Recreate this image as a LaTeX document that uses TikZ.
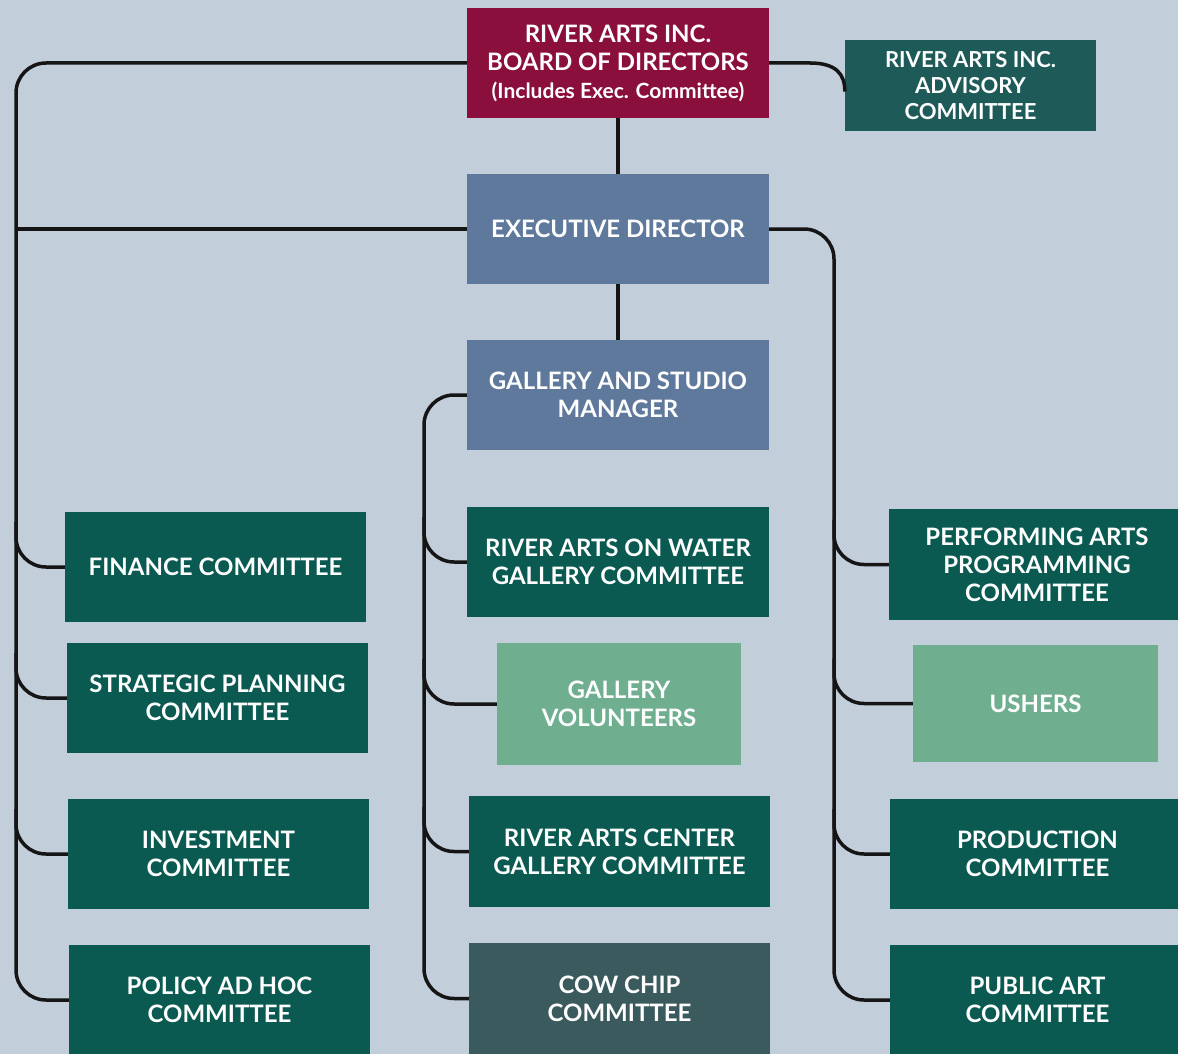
\documentclass[tikz,border=0pt]{standalone}
\usepackage{fontspec}
\setmainfont{Lato}
\usetikzlibrary{calc}
\definecolor{bgc}{HTML}{C3CEDB}
\definecolor{crim}{HTML}{8A0F3C}
\definecolor{dgreen}{HTML}{0A5A52}
\definecolor{advc}{HTML}{1D5A58}
\definecolor{bluec}{HTML}{5F799D}
\definecolor{lgreen}{HTML}{6FAE8E}
\definecolor{cowc}{HTML}{3B5A5D}
\definecolor{linec}{HTML}{151515}
\tikzset{
  orgbox/.style={rectangle, inner sep=0pt, text=white, align=center,
    font=\bfseries\fontsize{24}{28}\selectfont},
  conn/.style={draw=linec, line width=3.5pt, rounded corners=30pt},
}
\begin{document}
\begin{tikzpicture}[x=1pt,y=-1pt]
\useasboundingbox (0,0) rectangle (1178,1054);
\clip (0,0) rectangle (1178,1054);
\fill[bgc] (0,0) rectangle (1178,1054);
% top column
\node[orgbox, fill=crim, minimum width=302, minimum height=110] (board) at (618,63)
  {RIVER ARTS INC.\\BOARD OF DIRECTORS\\{\fontsize{21}{28}\selectfont (Includes Exec. Committee)}};
\node[orgbox, fill=advc, minimum width=251, minimum height=91, font=\bfseries\fontsize{22}{26}\selectfont] (adv) at (970.5,85.5)
  {RIVER ARTS INC.\\ADVISORY\\COMMITTEE};
\node[orgbox, fill=bluec, minimum width=302, minimum height=110] (exec) at (618,229)
  {EXECUTIVE DIRECTOR};
\node[orgbox, fill=bluec, minimum width=302, minimum height=110] (mgr) at (618,395)
  {GALLERY AND STUDIO\\MANAGER};
% left column
\node[orgbox, fill=dgreen, minimum width=301, minimum height=110] (fin) at (215.5,567)
  {FINANCE COMMITTEE};
\node[orgbox, fill=dgreen, minimum width=301, minimum height=110] (strat) at (217.5,698)
  {STRATEGIC PLANNING\\COMMITTEE};
\node[orgbox, fill=dgreen, minimum width=301, minimum height=110] (inv) at (218.5,854)
  {INVESTMENT\\COMMITTEE};
\node[orgbox, fill=dgreen, minimum width=301, minimum height=110] (pol) at (219.5,1000)
  {POLICY AD HOC\\COMMITTEE};
% middle column
\node[orgbox, fill=dgreen, minimum width=302, minimum height=110] (water) at (618,562)
  {RIVER ARTS ON WATER\\GALLERY COMMITTEE};
\node[orgbox, fill=lgreen, minimum width=244, minimum height=122] (vol) at (619,704)
  {GALLERY\\VOLUNTEERS};
\node[orgbox, fill=dgreen, minimum width=301, minimum height=111] (cent) at (619.5,851.5)
  {RIVER ARTS CENTER\\GALLERY COMMITTEE};
\node[orgbox, fill=cowc, minimum width=301, minimum height=111] (cow) at (619.5,998.5)
  {COW CHIP\\COMMITTEE};
% right column
\node[orgbox, fill=dgreen, minimum width=296, minimum height=111] (perf) at (1037,564.5)
  {PERFORMING ARTS\\PROGRAMMING\\COMMITTEE};
\node[orgbox, fill=lgreen, minimum width=245, minimum height=117] (ush) at (1035.5,703.5)
  {USHERS};
\node[orgbox, fill=dgreen, minimum width=295, minimum height=110] (prod) at (1037.5,854)
  {PRODUCTION\\COMMITTEE};
\node[orgbox, fill=dgreen, minimum width=295, minimum height=110] (pub) at (1037.5,1000)
  {PUBLIC ART\\COMMITTEE};
% trunks
\coordinate (lt) at (16,0);
\coordinate (mt) at (424,0);
\coordinate (rt) at (834,0);
\draw[conn] (board.south) -- (exec.north);
\draw[conn] (exec.south) -- (mgr.north);
\draw[conn] (board.west) -| (lt |- pol.west) -- (pol.west);
\draw[conn] (exec.west) -- (lt |- exec.west);
\draw[conn] (exec.east) -| (rt |- pub.west) -- (pub.west);
\draw[conn] (mgr.west) -| (mt |- cow.west) -- (cow.west);
\draw[conn, rounded corners=0pt] (board.east) -- (810,63) .. controls (836,63) and (845,74) .. ($(adv.west)+(0,6)$);
% branches
\foreach \n/\t in {fin/lt, strat/lt, inv/lt, water/mt, vol/mt, cent/mt, perf/rt, ush/rt, prod/rt} {
  \draw[conn] ($(\t |- \n.west)+(0,-45)$) |- (\n.west);
}
\end{tikzpicture}
\end{document}
